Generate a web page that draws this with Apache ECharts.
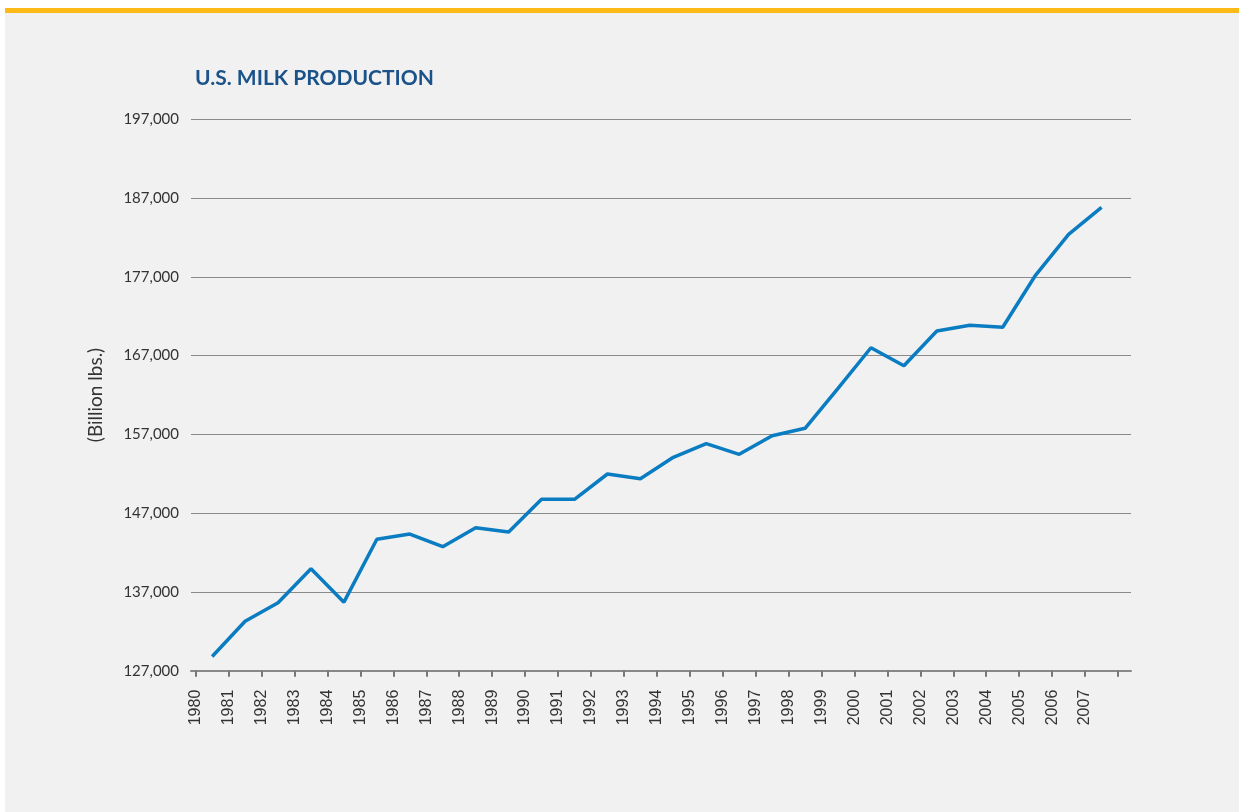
<!DOCTYPE html>
<html>
<head>
<meta charset="utf-8">
<script src="https://cdn.jsdelivr.net/npm/echarts@6/dist/echarts.min.js"></script>
<style>
  html, body { margin: 0; padding: 0; background: #fff; }
  #panel { position: absolute; left: 5px; top: 8px; right: 0; bottom: 0; background: #f1f1f1; border-top: 5px solid #fbba18; }
  #myChart { position: absolute; left: 0; top: 0; width: 1239px; height: 812px; }
</style>
</head>
<body>
<div id="panel"></div>
<div id="myChart"></div>
<script>
var years = ['1980','1981','1982','1983','1984','1985','1986','1987','1988','1989',
             '1990','1991','1992','1993','1994','1995','1996','1997','1998','1999',
             '2000','2001','2002','2003','2004','2005','2006','2007'];
// milk production
var production = [128800, 133270, 135630, 139950, 135700, 143680, 144350, 142740, 145150, 144600,
                  148760, 148760, 151970, 151370, 154090, 155820, 154470, 156830, 157770, 162850,
                  168000, 165720, 170120, 170850, 170600, 177230, 182400, 185830];
var yMin = 127000, yMax = 197000, yStep = 10000;

// tick labels sit on the band edges, one more edge than there are years
var tickLabels = years.concat(['']);

var labelFont = '"Lato", "Liberation Sans", sans-serif';

var option = {
    animation: false,
    title: {
        text: 'U.S. MILK PRODUCTION',
        left: 190,
        top: 63,
        textStyle: { color: '#1a5289', fontSize: 21, fontWeight: 'bold', fontFamily: labelFont }
    },
    grid: [
        { left: 191, right: 108, top: 119.3, bottom: 141.3 },
        { left: 195.7, right: 121, top: 119.3, bottom: 141.3 }
    ],
    xAxis: [{
        // data axis, points in the middle of each band
        type: 'category',
        gridIndex: 1,
        position: 'bottom',
        data: years,
        boundaryGap: true,
        show: false
    }, {
        // labels and ticks on the band edges
        type: 'category',
        gridIndex: 1,
        position: 'bottom',
        data: tickLabels,
        boundaryGap: false,
        axisLine: { show: false },
        axisTick: { show: true, interval: 0, length: 6, lineStyle: { color: '#777', width: 2 } },
        axisLabel: { interval: 0, rotate: 90, margin: 19, color: '#333', fontSize: 16, fontFamily: '"Liberation Sans", Arial, sans-serif' },
        splitLine: { show: false }
    }, {
        // long baseline under the whole plot
        type: 'value',
        gridIndex: 0,
        position: 'bottom',
        min: 0, max: 1,
        axisLine: { show: true, lineStyle: { color: '#888', width: 2 } },
        axisTick: { show: false },
        axisLabel: { show: false },
        splitLine: { show: false }
    }],
    yAxis: [{
        type: 'value',
        gridIndex: 0,
        min: yMin, max: yMax, interval: yStep,
        name: '(Billion lbs.)',
        nameLocation: 'middle',
        nameGap: 86,
        nameTextStyle: { color: '#333', fontSize: 19, fontFamily: labelFont },
        axisLine: { show: false },
        axisTick: { show: false },
        axisLabel: {
            margin: 12, color: '#333', fontSize: 15, fontFamily: labelFont,
            formatter: function (v) { return v.toLocaleString('en-US'); }
        },
        splitLine: { lineStyle: { color: '#8a8a8a', width: 1 } }
    }, {
        type: 'value',
        gridIndex: 1,
        min: yMin, max: yMax, interval: yStep,
        show: false,
        splitLine: { show: false }
    }],
    series: [{
        type: 'line',
        xAxisIndex: 0,
        yAxisIndex: 1,
        data: production,
        showSymbol: false,
        lineStyle: { color: '#0a7cc1', width: 3.5 },
        itemStyle: { color: '#0a7cc1' }
    }]
};

var myChart = echarts.init(document.getElementById('myChart'));
myChart.setOption(option);
</script>
</body>
</html>
